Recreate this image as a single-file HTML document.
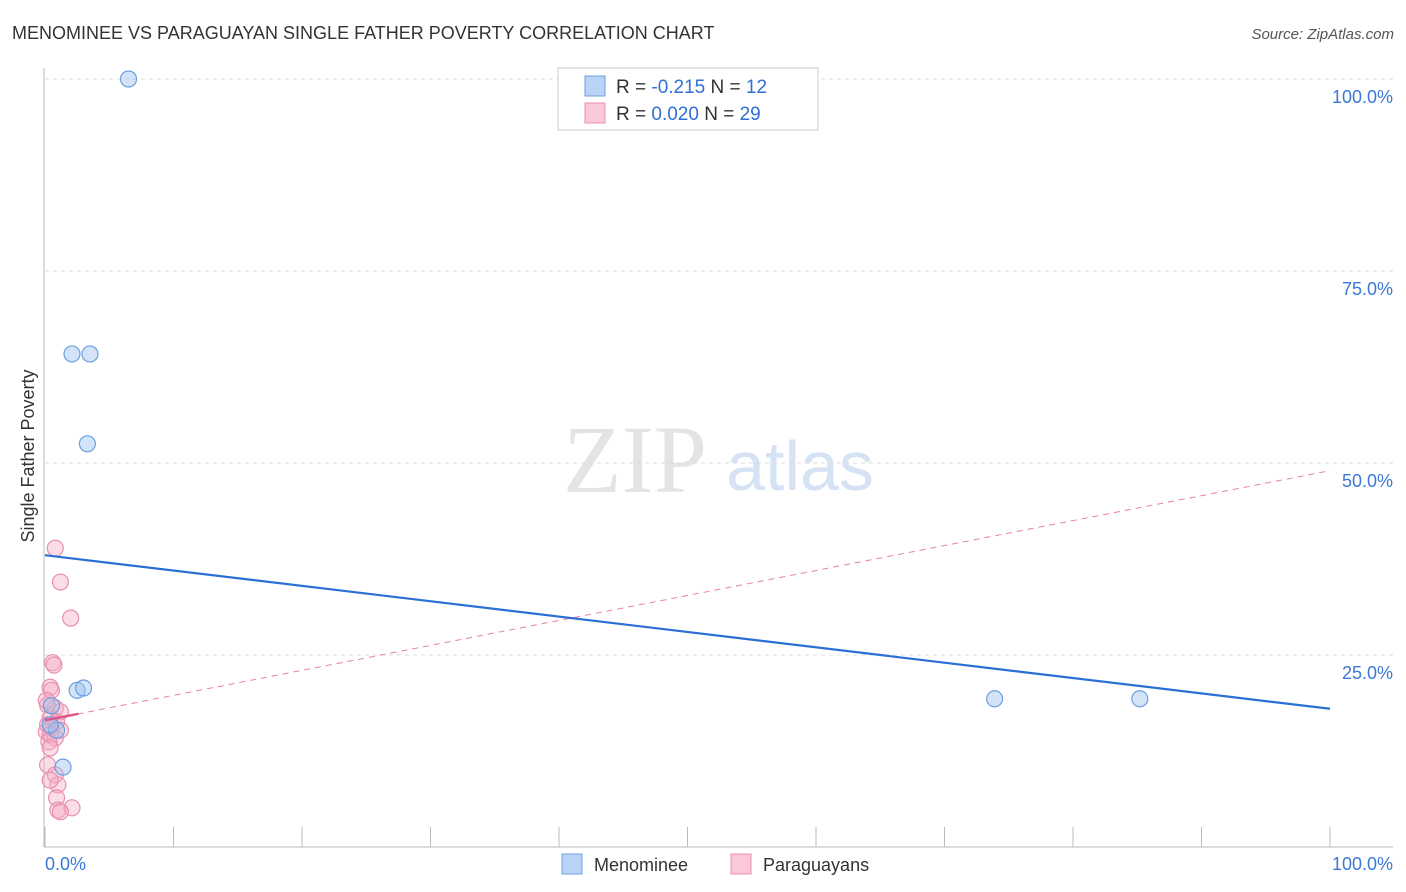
<!DOCTYPE html>
<html><head><meta charset="utf-8"><style>
body{margin:0;background:#fff;font-family:"Liberation Sans",sans-serif}
svg{display:block}
</style></head><body>
<svg id="c" width="1406" height="892" xmlns="http://www.w3.org/2000/svg">
<text x="12" y="39" font-size="18" fill="#333">MENOMINEE VS PARAGUAYAN SINGLE FATHER POVERTY CORRELATION CHART</text>
<text x="1394" y="39" font-size="15" fill="#555" font-style="italic" text-anchor="end">Source: ZipAtlas.com</text>
<text x="635" y="492" font-size="96" fill="#e4e4e4" font-family="Liberation Serif,serif" text-anchor="middle">ZIP</text>
<text x="800" y="490" font-size="70" fill="#d6e3f5" text-anchor="middle">atlas</text>
<text transform="translate(34,456) rotate(-90)" font-size="18" fill="#333" text-anchor="middle">Single Father Poverty</text>
<g id="grid"></g><g id="marks"></g>
<g>
<rect x="558" y="68" width="260" height="62" fill="#fff" stroke="#ccc"/>
<rect x="585" y="76" width="20" height="20" fill="#b8d3f5" stroke="#6b9fe0"/>
<rect x="585" y="103" width="20" height="20" fill="#fbc8d8" stroke="#e890ae"/>
<text x="616" y="93" font-size="19" fill="#333">R = <tspan fill="#2f6fd6">-0.215</tspan>   N = <tspan fill="#2f6fd6"> 12</tspan></text>
<text x="616" y="120" font-size="19" fill="#333">R = <tspan fill="#2f6fd6"> 0.020</tspan>   N = <tspan fill="#2f6fd6">29</tspan></text>
</g>
<g>
<rect x="562" y="854" width="20" height="20" fill="#b8d3f5" stroke="#6b9fe0"/>
<text x="594" y="871" font-size="18" fill="#333">Menominee</text>
<rect x="731" y="854" width="20" height="20" fill="#fbc8d8" stroke="#e890ae"/>
<text x="763" y="871" font-size="18" fill="#333">Paraguayans</text>
</g>
</svg>
<script>
const blueX=[6.5,2.1,3.5,3.3,2.5,3.0,1.4,0.5,0.9,0.4,73.9,85.2];
const blueY=[100,64.2,64.2,52.5,20.4,20.7,10.4,18.4,15.2,15.9,19.3,19.3];
const pinkX=[0.8,1.2,2.0,0.6,0.7,0.4,0.5,0.2,0.8,1.2,0.4,0.9,0.2,0.5,1.2,0.1,0.4,0.8,0.3,0.4,0.2,0.8,1.0,0.9,2.1,1.0,1.2,0.4,0.1];
const pinkY=[38.9,34.5,29.8,24.0,23.7,20.8,20.4,18.5,18.1,17.6,16.8,16.3,15.9,15.5,15.2,15.0,14.6,14.2,13.7,12.9,10.7,9.4,8.1,6.4,5.1,4.8,4.6,8.7,19.1];
const yTicks=[25,50,75,100];
const yTickLabels=["25.0%","50.0%","75.0%","100.0%"];
const xTickLabels=["0.0%","100.0%"];
const blueTrend=[38.0,18.0];
const pinkTrend=[16.5,49.0];
const NS="http://www.w3.org/2000/svg";
const sx=v=>45+v*12.85, sy=v=>847-v*7.68;
function mk(p,t,a){const e=document.createElementNS(NS,t);for(const k in a)e.setAttribute(k,a[k]);p.appendChild(e);return e;}
const grid=document.getElementById('grid'),marks=document.getElementById('marks');
yTicks.forEach((v,i)=>{
 const l=mk(grid,'line',{x1:45,x2:1393,y1:sy(v),y2:sy(v),stroke:'#ddd','stroke-dasharray':'4,4'});
 
 
 const t=mk(grid,'text',{x:1393,y:sy(v)+24,'font-size':18,fill:'#3b78d8','text-anchor':'end'});
 t.textContent=yTickLabels[i];
 
 
});
const ax=mk(grid,'line',{x1:44,x2:44,y1:68,y2:847,stroke:'#bbb'});


const bx=mk(grid,'line',{x1:44,x2:1393,y1:847,y2:847,stroke:'#bbb'});


for(let i=0;i<=10;i++){const t=mk(grid,'line',{x1:sx(i*10),x2:sx(i*10),y1:827,y2:847,stroke:'#bbb'});
 
 }
[[0,'start',45],[100,'end',1393]].forEach((d,i)=>{const t=mk(grid,'text',{x:d[2],y:870,'font-size':18,fill:'#3b78d8','text-anchor':d[1]});t.textContent=xTickLabels[i];
 
 });
pinkX.forEach((x,i)=>{const c=mk(marks,'circle',{cx:sx(x),cy:sy(pinkY[i]),r:8,fill:'rgba(245,170,195,0.4)',stroke:'#e890ae','stroke-width':1.2});
 
 });
blueX.forEach((x,i)=>{const c=mk(marks,'circle',{cx:sx(x),cy:sy(blueY[i]),r:8,fill:'rgba(160,196,240,0.45)',stroke:'#6b9fe0','stroke-width':1.2});
 
 });
const pl=mk(marks,'line',{x1:sx(0),y1:sy(pinkTrend[0]),x2:sx(100),y2:sy(pinkTrend[1]),stroke:'#e8809f','stroke-width':1,'stroke-dasharray':'6,5'});


const ps=mk(marks,'line',{x1:sx(0),y1:sy(pinkTrend[0]),x2:sx(2.6),y2:sy(pinkTrend[0]+(pinkTrend[1]-pinkTrend[0])*0.026),stroke:'#e05588','stroke-width':2.5});


const bl=mk(marks,'line',{x1:sx(0),y1:sy(blueTrend[0]),x2:sx(100),y2:sy(blueTrend[1]),stroke:'#2a6fd6','stroke-width':2.2});


</script>
</body></html>
